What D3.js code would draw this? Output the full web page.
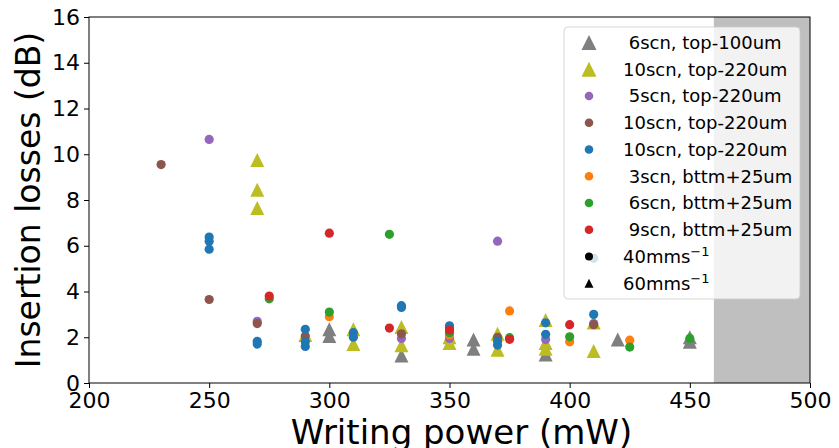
<!DOCTYPE html>
<html>
<head>
<meta charset="utf-8">
<script src="https://cdn.jsdelivr.net/npm/d3@7/dist/d3.min.js"></script>
<style>
  html, body { margin: 0; padding: 0; background: #fff; }
  svg { display: block; font-family: "DejaVu Sans", sans-serif; }
  text { white-space: pre; }
</style>
</head>
<body>
<svg id="chart" width="839" height="448"></svg>
<script>
// Insertion losses vs writing power, per scan configuration
const xTicks = [200, 250, 300, 350, 400, 450, 500];
const yTicks = [0, 2, 4, 6, 8, 10, 12, 14, 16];
const shadedRange = [460, 500];

const top100_6scn = [[300, 2.35], [300, 2.05], [330, 1.2], [360, 1.9], [360, 1.5], [390, 1.25], [420, 1.9], [450, 2.0], [450, 1.8]];
const top220_10scn_60 = [[270, 9.75], [270, 8.45], [270, 7.65], [290, 2.1], [310, 2.35], [310, 1.7], [330, 2.45], [330, 1.65],
  [350, 2.0], [350, 1.75], [370, 2.15], [370, 1.45], [390, 2.75], [390, 1.75], [390, 1.5], [410, 2.65], [410, 1.4]];
const top220_5scn = [[250, 10.65], [270, 2.7], [330, 1.95], [350, 1.95], [370, 6.2], [390, 1.9], [410, 2.6]];
const top220_10scn_a = [[230, 9.55], [250, 3.65], [270, 2.6], [290, 2.05], [330, 2.15], [370, 2.0], [410, 2.55]];
const top220_10scn_b = [[250, 6.38], [250, 6.2], [250, 5.85], [270, 1.82], [270, 1.7], [290, 2.35], [290, 1.8], [290, 1.6],
  [310, 2.2], [310, 2.0], [330, 3.38], [330, 3.3], [350, 2.5], [350, 2.42], [370, 1.83], [370, 1.66],
  [390, 2.63], [390, 2.13], [410, 3.0], [410, 5.45]];
const bttm_3scn = [[300, 2.9], [350, 2.1], [375, 3.15], [400, 1.8], [425, 1.87]];
const bttm_6scn = [[275, 3.68], [300, 3.1], [325, 6.5], [350, 2.2], [375, 1.98], [400, 2.02], [425, 1.57], [450, 1.95]];
const bttm_9scn = [[275, 3.8], [300, 6.55], [325, 2.4], [350, 2.32], [375, 1.91], [400, 2.55]];

const seriesLabels = [" 6scn, top-100um", "10scn, top-220um", " 5scn, top-220um", "10scn, top-220um",
  "10scn, top-220um", " 3scn, bttm+25um", " 6scn, bttm+25um", " 9scn, bttm+25um"];

const series = [
  { label: seriesLabels[0], data: top100_6scn, color: "#7f7f7f", shape: "tri" },
  { label: seriesLabels[1], data: top220_10scn_60, color: "#bcbd22", shape: "tri" },
  { label: seriesLabels[2], data: top220_5scn, color: "#9467bd", shape: "dot" },
  { label: seriesLabels[3], data: top220_10scn_a, color: "#8c564b", shape: "dot" },
  { label: seriesLabels[4], data: top220_10scn_b, color: "#1f77b4", shape: "dot" },
  { label: seriesLabels[5], data: bttm_3scn, color: "#ff7f0e", shape: "dot" },
  { label: seriesLabels[6], data: bttm_6scn, color: "#2ca02c", shape: "dot" },
  { label: seriesLabels[7], data: bttm_9scn, color: "#d62728", shape: "dot" }
];

const svg = d3.select("#chart");
const margin = { left: 89, right: 29, top: 17, bottom: 65 };
const W = 839, H = 448;
const x = d3.scaleLinear().domain([200, 500]).range([margin.left, W - margin.right]);
const y = d3.scaleLinear().domain([0, 16]).range([H - margin.bottom, margin.top]);

// shaded power band
svg.append("rect")
  .attr("x", x(shadedRange[0])).attr("y", y(16))
  .attr("width", x(shadedRange[1]) - x(shadedRange[0]))
  .attr("height", y(0) - y(16))
  .attr("fill", "#bfbfbf");

const triPath = (s) => `M0,${-s / 2}L${-s / 2},${s / 2}L${s / 2},${s / 2}Z`;
const TRI = 14, R = 4.6;

const g = svg.append("g");
series.forEach(s => {
  if (s.shape === "tri") {
    g.selectAll(null).data(s.data).enter().append("path")
      .attr("d", triPath(TRI))
      .attr("transform", d => `translate(${x(d[0])},${y(d[1])})`)
      .attr("fill", s.color);
  } else {
    g.selectAll(null).data(s.data).enter().append("circle")
      .attr("cx", d => x(d[0])).attr("cy", d => y(d[1])).attr("r", R)
      .attr("fill", s.color);
  }
});

// axes
const xAxis = svg.append("g").attr("transform", `translate(0,${y(0)})`)
  .call(d3.axisBottom(x).tickValues(xTicks).tickSize(5).tickPadding(4));
const yAxis = svg.append("g").attr("transform", `translate(${x(200)},0)`)
  .call(d3.axisLeft(y).tickValues(yTicks).tickSize(5).tickPadding(4));
[xAxis, yAxis].forEach(a => {
  a.select(".domain").remove();
  a.selectAll("line").attr("stroke", "#000").attr("stroke-width", 1);
  a.selectAll("text").attr("fill", "#000").attr("font-size", 22)
    .attr("font-family", "DejaVu Sans, sans-serif");
});

// frame
svg.append("rect")
  .attr("x", x(200)).attr("y", y(16))
  .attr("width", x(500) - x(200)).attr("height", y(0) - y(16))
  .attr("fill", "none").attr("stroke", "#000").attr("stroke-width", 1);

svg.append("text")
  .attr("x", (x(200) + x(500)) / 2 + 12).attr("y", 444)
  .attr("text-anchor", "middle").attr("font-size", 34)
  .text("Writing power (mW)");
svg.append("text")
  .attr("transform", `translate(40,${(y(0) + y(16)) / 2}) rotate(-90)`)
  .attr("text-anchor", "middle").attr("font-size", 33)
  .text("Insertion losses (dB)");

// legend
const leg = svg.append("g");
leg.append("rect")
  .attr("x", 564).attr("y", 27).attr("width", 236).attr("height", 272)
  .attr("rx", 4).attr("fill", "#fff").attr("fill-opacity", 0.8)
  .attr("stroke", "#cccccc").attr("stroke-opacity", 0.8);
const rowY = i => 42.5 + i * 26.75;
const markX = 589, textX = 623;
series.forEach((s, i) => {
  if (s.shape === "tri") {
    leg.append("path").attr("d", triPath(15))
      .attr("transform", `translate(${markX},${rowY(i)})`).attr("fill", s.color);
  } else {
    leg.append("circle").attr("cx", markX).attr("cy", rowY(i)).attr("r", 4.3).attr("fill", s.color);
  }
  leg.append("text").attr("x", textX).attr("y", rowY(i)).attr("dy", "0.36em")
    .attr("font-size", 18).text(s.label);
});
const speedLabels = ["40mms", "60mms"];
speedLabels.forEach((lab, j) => {
  const i = series.length + j;
  if (j === 0) {
    leg.append("circle").attr("cx", markX).attr("cy", rowY(i)).attr("r", 4).attr("fill", "#000");
  } else {
    leg.append("path").attr("d", triPath(9))
      .attr("transform", `translate(${markX},${rowY(i)})`).attr("fill", "#000");
  }
  const t = leg.append("text").attr("x", textX).attr("y", rowY(i)).attr("dy", "0.36em").attr("font-size", 18);
  t.append("tspan").text(lab);
  t.append("tspan").attr("dy", "-0.55em").attr("font-size", 13).text("\u22121");
});
</script>
</body>
</html>
